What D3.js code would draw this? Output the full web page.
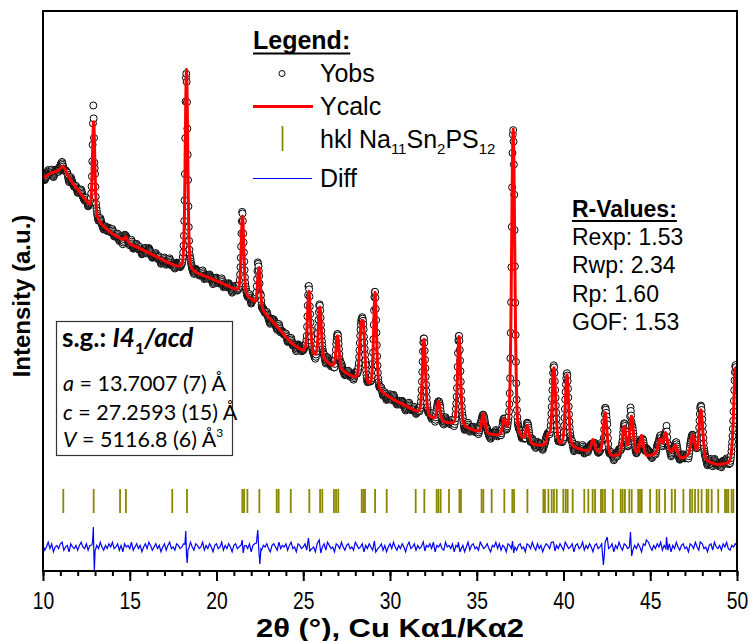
<!DOCTYPE html>
<html><head><meta charset="utf-8">
<script src="https://cdn.jsdelivr.net/npm/d3@7"></script>
<style>body{margin:0;background:#fff}svg{display:block}</style>
</head><body><svg id="c" width="751" height="641"></svg>
<script>
// ---------------- DATA ----------------
// background nodes: 2theta and counts
const bgX = [10.0,10.5,10.8,11.5,12.0,12.5,13.0,13.3,14.0,15.0,16.0,17.0,17.8,18.7,19.6,20.5,21.3,22.0,22.8,23.3,23.7,24.3,25.0,25.6,26.3,26.6,27.3,28.0,28.8,29.5,30.2,31.0,31.6,32.4,33.2,34.5,35.0,36.0,37.5,38.3,39.0,39.9,40.5,41.2,42.0,42.8,43.2,44.0,44.8,45.3,46.1,46.8,47.2,48.2,48.8,50.0];
const bgY = [5860,5960,5980,5840,5620,5380,5100,4940,4740,4540,4380,4200,4060,3960,3860,3720,3580,3420,3140,2960,2800,2560,2380,2280,2180,2100,1980,1840,1680,1560,1420,1280,1160,1040,960,840,780,700,600,500,480,480,460,400,360,280,300,320,280,320,360,240,280,180,120,120];
// Bragg peaks: position, height (counts), FWHM (deg)
const peakPos = [11.17,12.92,14.78,18.27,21.50,22.45,25.33,25.96,26.98,28.32,28.47,29.14,31.96,32.80,33.98,35.38,36.58,37.10,37.92,39.13,39.45,40.20,41.70,42.40,43.50,43.92,44.50,45.55,45.88,46.45,47.45,47.92,49.92];
const peakH   = [180,1840,100,4020,1560,800,1260,1040,660,900,960,1940,1520,380,1800,380,300,6200,320,200,1560,1440,240,840,560,760,400,280,400,200,440,1000,1940];
const peakW   = [0.40,0.16,0.18,0.17,0.18,0.19,0.2,0.2,0.2,0.2,0.2,0.2,0.21,0.21,0.21,0.22,0.22,0.22,0.22,0.23,0.23,0.23,0.23,0.24,0.24,0.24,0.24,0.25,0.25,0.25,0.26,0.26,0.26];
// hkl reflection positions
const hkl = [11.17,12.92,14.44,14.78,17.45,18.30,21.49,21.59,21.78,22.47,23.47,23.58,24.28,25.35,25.97,26.10,26.77,26.89,27.02,28.37,28.46,28.56,29.14,29.81,31.48,31.98,32.69,32.79,32.92,33.40,34.00,34.09,35.28,35.38,35.86,36.59,37.05,37.15,37.92,38.84,38.93,39.13,39.32,39.45,39.61,39.99,40.13,40.24,40.53,41.20,41.43,41.68,41.82,42.16,42.26,42.39,42.84,43.30,43.41,43.54,43.79,43.93,44.31,44.41,44.51,44.99,45.37,45.52,45.85,46.24,46.43,46.91,47.29,47.42,47.58,47.77,47.96,48.25,48.35,48.54,48.92,49.31,49.41,49.50,49.69,49.79];
// difference curve: noise samples every 0.1 deg from 10 to 50 (units of 32 counts)
const diffBase = [
 1,-2,0,3,-1,2,-3,0,1,-1,2,3,-2,0,1,-3,2,0,-1,1,
 -2,1,3,0,-1,2,-2,1,0,-3,2,1,-1,3,0,-2,1,-1,2,0,
 3,-1,0,2,-2,1,-3,2,0,1,-1,3,-2,0,2,-1,1,-3,0,2,
 -1,3,1,-2,0,2,-1,1,-3,0,2,-2,1,3,-1,0,-2,2,1,-1,
 0,2,-3,1,-1,3,0,-2,2,1,-1,0,3,-2,1,-1,2,0,-3,1,
 2,-1,0,3,-2,1,-1,2,0,-3,1,2,-1,0,3,-2,0,1,-1,2,
 -3,1,2,0,-1,3,-2,1,0,2,-1,-3,1,2,0,-2,3,-1,1,0,
 2,-2,1,3,-1,0,-3,2,1,-1,0,2,-2,3,1,-1,0,-3,2,1,
 -1,0,2,-2,3,1,-1,0,-3,2,1,-1,3,0,-2,1,2,-1,0,-2,
 3,1,-1,0,2,-3,1,-1,2,0,-2,3,1,-1,0,2,-2,1,-3,0,
 2,-1,3,0,-2,1,-1,2,0,-3,1,3,-1,0,2,-2,1,-1,0,3,
 -2,1,0,2,-1,3,-3,1,0,2,-1,-2,3,0,1,-1,2,-3,1,0,
 2,-1,1,-3,0,3,-2,1,2,-1,0,-2,3,1,-1,0,2,-1,-3,1,
 0,3,-1,2,-2,1,0,-3,2,1,-1,3,0,-2,1,2,-1,0,-3,2,
 1,-1,3,0,-2,2,-1,1,-3,0,2,1,-1,3,-2,0,1,-1,2,0,
 -2,3,1,-1,0,2,-3,1,2,-1,0,3,-2,1,-1,2,0,-3,1,2,
 -1,0,2,-2,3,1,-1,0,2,-3,1,-1,3,0,-2,2,1,-1,0,3,
 -2,1,-1,2,0,-3,2,1,-1,3,0,-2,1,-1,2,0,3,-2,1,-1,
 0,2,-3,1,-1,3,0,-2,1,2,-1,0,-3,2,1,-1,3,0,-2,1,
 2,-1,0,-3,1,2,-2,3,0,-1,1,-2,2,0,3,-1,-2,1,0,2,
 1];
// difference spikes at the strong reflections (2theta, counts)
const spikeX = [12.82,12.86,12.90,12.93,12.96,13.00, 18.18,18.23,18.27,18.31,18.36, 21.42,21.48,21.54,21.61, 22.30,22.38,22.44,22.50,22.56, 25.30,25.38, 25.92,26.01, 29.10,29.18, 31.92,32.01, 33.94,34.03, 37.06,37.13, 39.42,39.51, 42.30,42.36,42.52, 43.86,43.93, 44.78, 45.94,46.01, 47.88];
const spikeY = [40,120,400,-100,-480,-80, 60,320,-160,-320,-40, 40,140,-120,20, 80,340,-60,-340,-40, 180,-80, 140,-120, 120,-100, 100,-80, 100,-100, 120,-120, 100,-80, -360,-120,200, 300,-180, 140, 200,-60, 100];
const diffOffset = -1520;
const xTicks = [10,15,20,25,30,35,40,45,50];
const rValues = ["Rexp: 1.53","Rwp: 2.34","Rp: 1.60","GOF: 1.53"];

// ---------------- CHART ----------------
const svg = d3.select("#c");
const L=43, T=11, R=737, B=571;
const x = d3.scaleLinear().domain([10,50]).range([L,R]);
const y = d3.scaleLinear().domain([-2000,9200]).range([B,T]);
const bg = d3.scaleLinear().domain(bgX).range(bgY);

const diffPts = diffBase.map((v,i)=>[10+0.1*i, v*32])
  .filter(p=>!spikeX.some(s=>Math.abs(s-p[0])<0.035));
spikeX.forEach((s,i)=>diffPts.push([s, spikeY[i]]));
diffPts.sort((a,b)=>a[0]-b[0]);
const diffF = d3.scaleLinear().domain(diffPts.map(d=>d[0])).range(diffPts.map(d=>d[1]));

const ln2 = Math.log(2);
function calc(t){
  let v = bg(t);
  for(let i=0;i<peakPos.length;i++){
    const dx=t-peakPos[i]; const f=peakW[i];
    if(Math.abs(dx)>3) continue;
    const q=dx*dx/(f*f);
    v += peakH[i]*(0.7*Math.exp(-4*ln2*q)+0.3/(1+4*q));
  }
  return v;
}
const calcX = d3.range(10,50.0001,0.01);
const obsX = d3.range(10,50.0001,0.02);

svg.append("defs").append("clipPath").attr("id","clip")
  .append("rect").attr("x",L).attr("y",T).attr("width",R-L).attr("height",B-T);
const plot = svg.append("g").attr("clip-path","url(#clip)");

// hkl ticks
plot.append("g").selectAll("line").data(hkl).join("line")
  .attr("x1",d=>x(d)).attr("x2",d=>x(d)).attr("y1",489).attr("y2",513)
  .attr("stroke","#8a8700").attr("stroke-width",1.8);

// diff curve
plot.append("path").datum(diffPts)
  .attr("d",d3.line().x(d=>x(d[0])).y(d=>y(diffOffset+d[1])))
  .attr("fill","none").attr("stroke","#0000ff").attr("stroke-width",1.2);

// observed
plot.append("g").selectAll("circle").data(obsX).join("circle")
  .attr("cx",d=>x(d)).attr("cy",d=>y(calc(d)+diffF(d)))
  .attr("r",3.5).attr("fill","#fff").attr("stroke","#000").attr("stroke-width",1);

// calculated
plot.append("path").datum(calcX)
  .attr("d",d3.line().x(d=>x(d)).y(d=>y(calc(d))))
  .attr("fill","none").attr("stroke","#ff0000").attr("stroke-width",3).attr("stroke-linejoin","round");

// frame
svg.append("rect").attr("x",L).attr("y",T).attr("width",R-L).attr("height",B-T)
  .attr("fill","none").attr("stroke","#000").attr("stroke-width",2);

// x axis
const NF = "'Liberation Sans',Arial,sans-serif";
const ax = svg.append("g").attr("transform",`translate(0,${B})`);
ax.call(d3.axisBottom(x).tickValues(d3.range(10,51,1)).tickSize(5).tickFormat(""))
  .call(g=>g.select(".domain").remove())
  .call(g=>g.selectAll("line").attr("stroke-width",2));
const ax2 = svg.append("g").attr("transform",`translate(0,${B})`);
ax2.call(d3.axisBottom(x).tickValues(xTicks).tickSize(10).tickFormat(d3.format("d")))
  .call(g=>g.select(".domain").remove())
  .call(g=>g.selectAll("line").attr("stroke-width",2))
  .call(g=>g.selectAll("text").attr("y",0).attr("dy",0)
     .attr("transform","translate(0,38) scale(0.84,1)")
     .attr("font-family",NF).attr("font-size",23).attr("fill","#000"));

svg.append("text").attr("x",(L+R)/2).attr("y",637).attr("text-anchor","middle")
  .attr("font-family",NF).attr("font-weight","bold")
  .attr("font-size",25).attr("textLength",268).attr("lengthAdjust","spacingAndGlyphs")
  .text("2θ (°), Cu Kα1/Kα2");

svg.append("text").attr("transform","translate(30,296) rotate(-90)").attr("text-anchor","middle")
  .attr("font-family",NF).attr("font-weight","bold")
  .attr("font-size",24).text("Intensity (a.u.)");

// legend
const F = NF;
const lg = svg.append("g").attr("font-family",F).attr("fill","#000");
const lt = lg.append("text").attr("x",253).attr("y",49).attr("font-size",25).attr("font-weight","bold").text("Legend:");
const lw = lt.node().getComputedTextLength();
lg.append("line").attr("x1",253).attr("x2",253+lw).attr("y1",53.5).attr("y2",53.5).attr("stroke","#000").attr("stroke-width",2);
lg.append("circle").attr("cx",282).attr("cy",73.5).attr("r",3).attr("fill","#fff").attr("stroke","#000").attr("stroke-width",1);
lg.append("text").attr("x",320).attr("y",82).attr("font-size",25).text("Yobs");
lg.append("line").attr("x1",253).attr("x2",313).attr("y1",106.5).attr("y2",106.5).attr("stroke","#ff0000").attr("stroke-width",3);
lg.append("text").attr("x",320).attr("y",115).attr("font-size",25).text("Ycalc");
lg.append("line").attr("x1",282.5).attr("x2",282.5).attr("y1",126).attr("y2",151).attr("stroke","#8a8700").attr("stroke-width",1.8);
const ht = lg.append("text").attr("x",320).attr("y",148).attr("font-size",25);
ht.append("tspan").text("hkl Na");
ht.append("tspan").attr("font-size",15).attr("dy",6).text("11");
ht.append("tspan").attr("dy",-6).text("Sn");
ht.append("tspan").attr("font-size",15).attr("dy",6).text("2");
ht.append("tspan").attr("dy",-6).text("PS");
ht.append("tspan").attr("font-size",15).attr("dy",6).text("12");
lg.append("line").attr("x1",253).attr("x2",312).attr("y1",178.5).attr("y2",178.5).attr("stroke","#0000ff").attr("stroke-width",1.2);
lg.append("text").attr("x",320).attr("y",187).attr("font-size",25).text("Diff");

// R-values
const rv = svg.append("g").attr("font-family",F).attr("fill","#000");
const rt = rv.append("text").attr("x",572).attr("y",217).attr("font-size",23).attr("font-weight","bold").text("R-Values:");
const rw = rt.node().getComputedTextLength();
rv.append("line").attr("x1",572).attr("x2",572+rw).attr("y1",221).attr("y2",221).attr("stroke","#000").attr("stroke-width",2);
rv.selectAll("text.rv").data(rValues).join("text").attr("class","rv")
  .attr("x",572).attr("y",(d,i)=>245+28.4*i).attr("font-size",23).text(d=>d);

// space group box
const SF = "Lato,'Open Sans',sans-serif";
const sg = svg.append("g").attr("font-family",SF).attr("fill","#000");
sg.append("rect").attr("x",56.5).attr("y",321.5).attr("width",176).attr("height",134)
  .attr("fill","#fff").attr("stroke","#333").attr("stroke-width",1.2);
const s1 = sg.append("text").attr("x",62).attr("y",347).attr("font-size",26).attr("font-weight","bold");
s1.append("tspan").text("s.g.: ");
s1.append("tspan").attr("font-style","italic").text("I4");
s1.append("tspan").attr("font-size",16).attr("dy",7).text("1");
s1.append("tspan").attr("dy",-7).attr("font-style","italic").text("/acd");
const s2 = sg.append("text").attr("x",63).attr("y",391).attr("font-size",21.5);
s2.append("tspan").attr("font-style","italic").text("a");
s2.append("tspan").text(" = 13.7007 (7) Å");
const s3 = sg.append("text").attr("x",63).attr("y",419.5).attr("font-size",21.5);
s3.append("tspan").attr("font-style","italic").text("c");
s3.append("tspan").text(" = 27.2593 (15) Å");
const s4 = sg.append("text").attr("x",63).attr("y",447).attr("font-size",21.5);
s4.append("tspan").attr("font-style","italic").text("V");
s4.append("tspan").text(" = 5116.8 (6) Å");
s4.append("tspan").attr("font-size",12).attr("dy",-10).text("3");
</script></body></html>
